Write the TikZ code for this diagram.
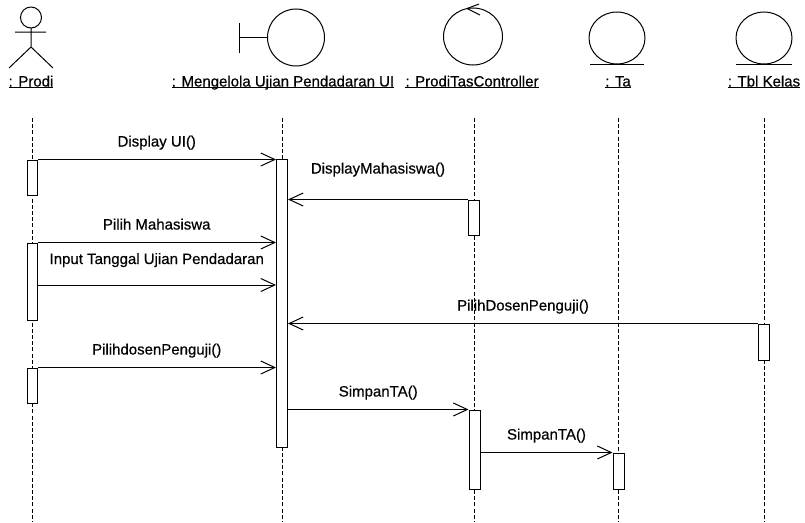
\documentclass[tikz,border=0pt]{standalone}
\usepackage{fontspec}
\setmainfont[FakeBold=0.5]{Liberation Sans}
\usetikzlibrary{arrows.meta}
\newcommand\objname[1]{\setbox0\hbox{#1}\rlap{\rule[-1.8pt]{\wd0}{0.9pt}}\box0}

\begin{document}
\begin{tikzpicture}[
  x=1pt, y=-1pt,
  line width=1pt,
  font=\fontsize{15}{18}\selectfont,
  life/.style={dash pattern=on 4pt off 2.2pt, line width=0.9pt},
  act/.style={draw, fill=white, minimum width=11pt, inner sep=0pt},
  msg/.style={-{Straight Barb[length=14pt,width=13pt,line width=1pt]}},
  obj/.style={anchor=base, inner sep=0pt},
  lbl/.style={midway, anchor=base, inner sep=0pt, yshift=#1},
  lbl/.default=13pt
]
\useasboundingbox (0,0) rectangle (805,522);

% icons
\draw (31,17.5) circle (10.5pt);
\draw (31,28) -- (31,47) (15,32) -- (46,32) (9,68) -- (31,47) -- (53,68);
\draw (296,37.5) circle (28.5pt);
\draw (239,23) -- (239,53) (239,37.5) -- (267.5,37.5);
\draw (473,36.5) ellipse (29.5pt and 28.5pt);
\draw (479,4) -- (467,8.5) -- (480,15);
\draw (617,38) ellipse (28pt and 26pt);
\draw (590,64) -- (644,64);
\draw (764,38) ellipse (28pt and 26pt);
\draw (736,64) -- (792,64);

% object names
\node[obj] (prodi) at (31,86.5) {\objname{: Prodi}};
\node[obj] (ui) at (283,86.5) {\objname{: Mengelola Ujian Pendadaran UI}};
\node[obj] (ctrl) at (472,86.5) {\objname{: ProdiTasController}};
\node[obj] (ta) at (618,86.5) {\objname{: Ta}};
\node[obj] (kelas) at (764,86.5) {\objname{: Tbl Kelas}};

% lifelines
\coordinate (prodiEnd) at (32,522);
\coordinate (uiEnd) at (282,522);
\coordinate (ctrlEnd) at (474,522);
\coordinate (taEnd) at (618,522);
\coordinate (kelasEnd) at (764,522);
\draw[life] (prodiEnd |- 0,118) -- (prodiEnd);
\draw[life] (uiEnd |- 0,118) -- (uiEnd);
\draw[life] (ctrlEnd |- 0,118) -- (ctrlEnd);
\draw[life] (taEnd |- 0,118) -- (taEnd);
\draw[life] (kelasEnd |- 0,118) -- (kelasEnd);

% activations
\node[act, minimum width=10pt, minimum height=35] (p1) at (32,177.5) {};
\node[act, minimum width=10pt, minimum height=77] (p2) at (32,281.5) {};
\node[act, minimum width=10pt, minimum height=35] (p3) at (32,385.5) {};
\node[act, minimum height=288] (m) at (282,303) {};
\node[act, minimum height=35] (c1) at (474,217.5) {};
\node[act, minimum height=79] (c2) at (474.5,449.5) {};
\node[act, minimum height=36] (t1) at (618.5,471) {};
\node[act, minimum height=36] (k1) at (764,342) {};

% messages
\draw[msg] (p1.north east) -- (p1.north east -| m.west) node[lbl] {Display UI()};
\draw[msg] (c1.north west) -- (c1.north west -| m.east) node[lbl=26pt] {DisplayMahasiswa()};
\draw[msg] (p2.north east) -- (p2.north east -| m.west) node[lbl] {Pilih Mahasiswa};
\draw[msg] ([yshift=-3.5pt]p2.east) -- ([yshift=-3.5pt]p2.east -| m.west)
  node[lbl=21pt] {Input Tanggal Ujian Pendadaran};
\draw[msg] (k1.north west) -- (k1.north west -| m.east) node[lbl] {PilihDosenPenguji()};
\draw[msg] (p3.north east) -- (p3.north east -| m.west) node[lbl] {PilihdosenPenguji()};
\draw[msg] (c2.north west -| m.east) -- (c2.north west) node[lbl] {SimpanTA()};
\draw[msg] (t1.north west -| c2.east) -- (t1.north west) node[lbl] {SimpanTA()};
\end{tikzpicture}
\end{document}
